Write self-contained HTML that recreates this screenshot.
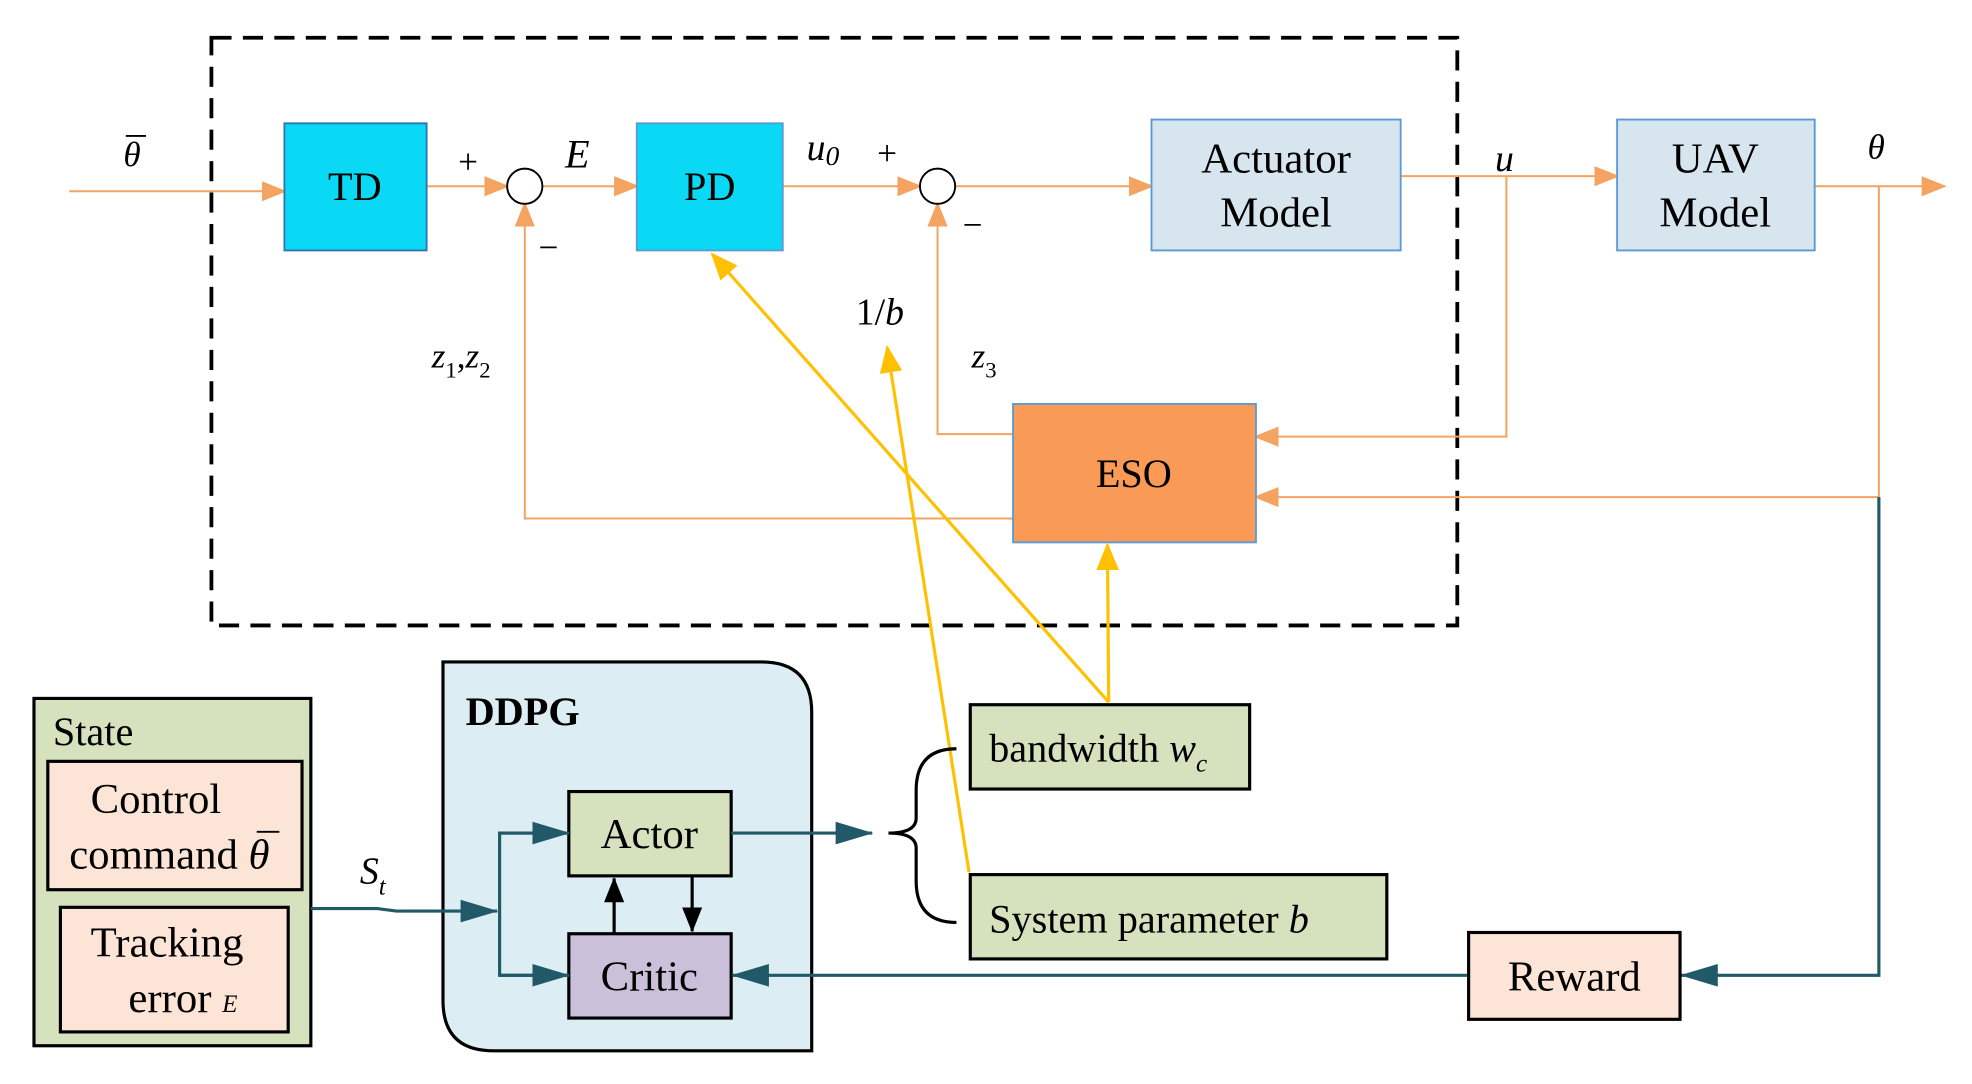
<!DOCTYPE html>
<html><head><meta charset="utf-8"><style>
html,body{margin:0;padding:0;background:#fff;}
svg{display:block;}
text{font-family:"Liberation Serif",serif;fill:#000;}
</style></head><body>
<svg width="1972" height="1084" viewBox="0 0 1567 861.4" preserveAspectRatio="none" xmlns="http://www.w3.org/2000/svg">
<defs>
<marker id="aO" markerWidth="20" markerHeight="20" refX="18" refY="10" orient="auto" markerUnits="userSpaceOnUse" viewBox="0 0 20 20"><path d="M0,2 L20,10 L0,18 z" fill="#F4A460"/></marker>
<marker id="ay" markerWidth="22" markerHeight="22" refX="20" refY="11" orient="auto" markerUnits="userSpaceOnUse" viewBox="0 0 22 22"><path d="M0,2 L22,11 L0,20 z" fill="#FFC000"/></marker>
<marker id="at" markerWidth="30" markerHeight="22" refX="29" refY="11" orient="auto" markerUnits="userSpaceOnUse" viewBox="0 0 30 22"><path d="M0,2 L30,11 L0,20 z" fill="#215968"/></marker>
<marker id="ak" markerWidth="20" markerHeight="20" refX="19" refY="10" orient="auto" markerUnits="userSpaceOnUse" viewBox="0 0 20 20"><path d="M0,2 L20,10 L0,18 z" fill="#000"/></marker>
</defs>
<rect x="168" y="30" width="990" height="467" fill="none" stroke="#000" stroke-width="3" stroke-dasharray="16,9"/>
<g stroke="#F4A460" stroke-width="1.6" fill="none">
<line x1="55" y1="152" x2="226" y2="152" marker-end="url(#aO)"/>
<line x1="339" y1="148" x2="403" y2="148" marker-end="url(#aO)"/>
<line x1="431" y1="148" x2="506" y2="148" marker-end="url(#aO)"/>
<line x1="622" y1="148" x2="731" y2="148" marker-end="url(#aO)"/>
<line x1="759" y1="148" x2="915" y2="148" marker-end="url(#aO)"/>
<line x1="1113" y1="140" x2="1285" y2="140" marker-end="url(#aO)"/>
<line x1="1442" y1="148" x2="1545" y2="148" marker-end="url(#aO)"/>
<polyline points="1197,140 1197,347 998,347" marker-end="url(#aO)"/>
<polyline points="1493,148 1493,395 998,395" marker-end="url(#aO)"/>
<polyline points="805,345 745,345 745,162" marker-end="url(#aO)"/>
<polyline points="805,412 417,412 417,162" marker-end="url(#aO)"/>
</g>
<circle cx="417" cy="148" r="14" fill="#fff" stroke="#000" stroke-width="1.5"/>
<circle cx="745" cy="148" r="14" fill="#fff" stroke="#000" stroke-width="1.5"/>
<rect x="226" y="98" width="113" height="101" fill="#09D9F5" stroke="#2E75B6" stroke-width="1.5"/>
<rect x="506" y="98" width="116" height="101" fill="#09D9F5" stroke="#5B9BD5" stroke-width="1.5"/>
<rect x="915" y="95" width="198" height="104" fill="#D6E5EE" stroke="#5B9BD5" stroke-width="1.5"/>
<rect x="1285" y="95" width="157" height="104" fill="#D6E5EE" stroke="#5B9BD5" stroke-width="1.5"/>
<rect x="805" y="321" width="193" height="110" fill="#FA9A57" stroke="#5B9BD5" stroke-width="1.5"/>
<text x="282" y="159" font-size="32" text-anchor="middle">TD</text>
<text x="564" y="159" font-size="32" text-anchor="middle">PD</text>
<text x="1014" y="137" font-size="34" text-anchor="middle">Actuator</text>
<text x="1014" y="180" font-size="34" text-anchor="middle">Model</text>
<text x="1363" y="137" font-size="34" text-anchor="middle">UAV</text>
<text x="1363" y="180" font-size="34" text-anchor="middle">Model</text>
<text x="901" y="387" font-size="32" text-anchor="middle">ESO</text>
<text x="98" y="132" font-size="28" font-style="italic">θ</text>
<line x1="100" y1="108" x2="116" y2="108" stroke="#000" stroke-width="1.5"/>
<text x="364" y="138" font-size="28">+</text>
<text x="449" y="133" font-size="32" font-style="italic">E</text>
<text x="428" y="206" font-size="28">−</text>
<text x="641" y="127" font-size="30" font-style="italic">u<tspan font-size="22" dy="4">0</tspan></text>
<text x="697" y="131" font-size="28">+</text>
<text x="765" y="188" font-size="28">−</text>
<text x="1188" y="136" font-size="30" font-style="italic">u</text>
<text x="1484" y="126" font-size="28" font-style="italic">θ</text>
<text x="343" y="292" font-size="28" font-style="italic">z<tspan font-size="18" dy="8" font-style="normal">1</tspan><tspan dy="-8" font-style="normal">,</tspan>z<tspan font-size="18" dy="8" font-style="normal">2</tspan></text>
<text x="772" y="292" font-size="28" font-style="italic">z<tspan font-size="18" dy="8" font-style="normal">3</tspan></text>
<text x="680" y="258" font-size="30">1/<tspan font-style="italic">b</tspan></text>
<g stroke="#FFC000" stroke-width="2.5" fill="none">
<line x1="881" y1="558" x2="566" y2="202" marker-end="url(#ay)"/>
<line x1="881" y1="558" x2="880" y2="433" marker-end="url(#ay)"/>
<line x1="770" y1="693" x2="705" y2="276" marker-end="url(#ay)"/>
</g>
<path d="M352,526 L605,526 Q645,526 645,566 L645,835 L392,835 Q352,835 352,795 Z" fill="#DCEDF3" stroke="#000" stroke-width="2.5"/>
<text x="370" y="576" font-size="32" font-weight="bold">DDPG</text>
<rect x="27" y="555" width="220" height="276" fill="#D6E2BD" stroke="#000" stroke-width="2.5"/>
<text x="42" y="592" font-size="32">State</text>
<rect x="38" y="605" width="202" height="102" fill="#FCE4D6" stroke="#000" stroke-width="2.5"/>
<text x="72" y="646" font-size="34">Control</text>
<text x="55" y="690" font-size="34">command <tspan font-style="italic">θ</tspan></text>
<line x1="204" y1="661" x2="222" y2="661" stroke="#000" stroke-width="1.5"/>
<rect x="48" y="721" width="181" height="99" fill="#FCE4D6" stroke="#000" stroke-width="2.5"/>
<text x="72" y="760" font-size="34">Tracking</text>
<text x="102" y="804" font-size="34">error <tspan font-size="20" font-style="italic">E</tspan></text>
<rect x="452" y="629" width="129" height="67" fill="#D6E2BD" stroke="#000" stroke-width="2.5"/>
<rect x="452" y="742" width="129" height="67" fill="#CBC0D9" stroke="#000" stroke-width="2.5"/>
<text x="516" y="674" font-size="34" text-anchor="middle">Actor</text>
<text x="516" y="787" font-size="34" text-anchor="middle">Critic</text>
<line x1="488" y1="742" x2="488" y2="698" stroke="#000" stroke-width="2.5" marker-end="url(#ak)"/>
<line x1="550" y1="696" x2="550" y2="740" stroke="#000" stroke-width="2.5" marker-end="url(#ak)"/>
<g stroke="#215968" stroke-width="2.5" fill="none">
<polyline points="247,722 300,722 315,724 395,724" marker-end="url(#at)"/>
<polyline points="452,662 397,662 397,775 452,775"/>
<line x1="397" y1="662" x2="452" y2="662" marker-end="url(#at)"/>
<line x1="397" y1="775" x2="452" y2="775" marker-end="url(#at)"/>
<line x1="581" y1="662" x2="693" y2="662" marker-end="url(#at)"/>
<line x1="1167" y1="775" x2="582" y2="775" marker-end="url(#at)"/>
<polyline points="1493,395 1493,775 1336,775" marker-end="url(#at)"/>
</g>
<text x="286" y="702" font-size="30" font-style="italic">S<tspan font-size="20" dy="9">t</tspan></text>
<path d="M760,595 Q728,595 728,628 L728,650 Q728,662 706,662 Q728,662 728,674 L728,700 Q728,733 760,733" fill="none" stroke="#000" stroke-width="2.5"/>
<rect x="771" y="560" width="222" height="67" fill="#D6E2BD" stroke="#000" stroke-width="2.5"/>
<text x="786" y="605" font-size="32">bandwidth <tspan font-style="italic">w</tspan><tspan font-size="20" font-style="italic" dy="8">c</tspan></text>
<rect x="771" y="695" width="331" height="67" fill="#D6E2BD" stroke="#000" stroke-width="2.5"/>
<text x="786" y="741" font-size="32">System parameter <tspan font-style="italic">b</tspan></text>
<rect x="1167" y="741" width="168" height="69" fill="#FCE4D6" stroke="#000" stroke-width="2.5"/>
<text x="1251" y="787" font-size="34" text-anchor="middle">Reward</text>
</svg>
</body></html>
